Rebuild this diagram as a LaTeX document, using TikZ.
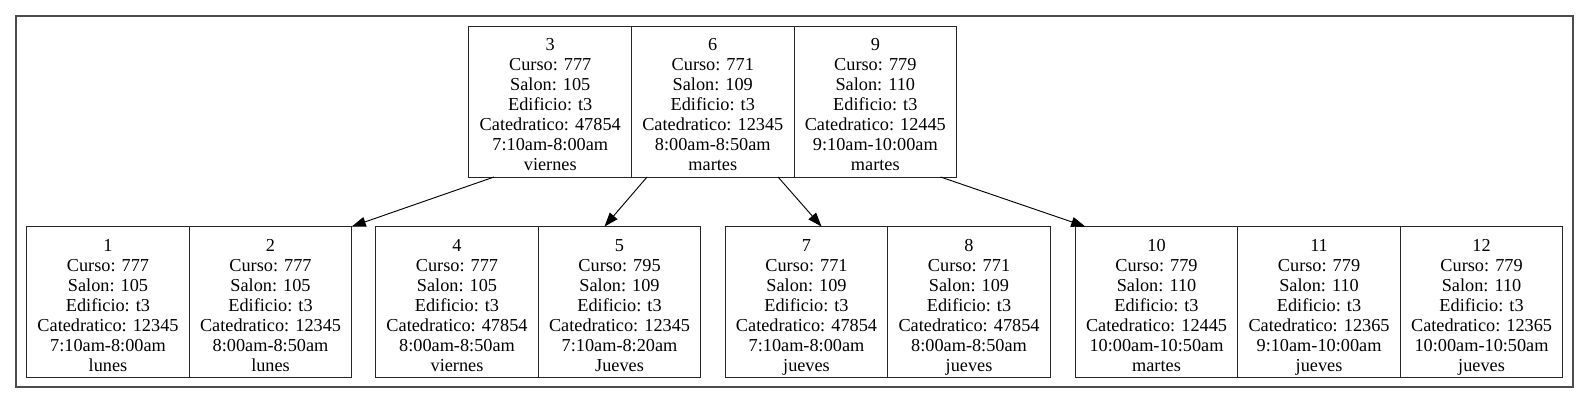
\documentclass[tikz,border=0pt]{standalone}
\usepackage{fontspec}
\setmainfont{Liberation Serif}
\usetikzlibrary{
    arrows.meta,
    positioning,
    calc
}
\tikzset{
    % Colors
    cluster color/.style={black!70},
    field color/.style={black!85},
    %
    % Cluster and record fields
    cluster/.style={cluster color,line width=1.3pt},
    field/.style={draw,field color,text=black,line width=.75pt,
        minimum width=121.9pt,minimum height=113.25pt,inner sep=0pt,outer sep=0pt,
        align=center,font=\fontsize{13.7}{15}\selectfont},
    %
    % Arrows
    arrow tip/.tip={Triangle[length=10.5pt,width=7.5pt]},
    arr/.style={-{arrow tip},line width=.7pt}
}
% one field of a record (struts keep all fields on the same baselines)
\newcommand{\ficha}[6]{\rule{0pt}{18pt}#1\\\strut Curso: #2\\\strut Salon: #3\\\strut Edificio: t3\\\strut Catedratico: #4\\\strut #5\\\strut #6}

\begin{document}
\begin{tikzpicture}[x=0.75pt,y=-0.75pt]
        \useasboundingbox (0,0) rectangle (1589,405);
        \draw[cluster] (16,16) rectangle (1573,387);
        % root
        \node[field] (f3) at (550.25,101.5) {\ficha{3}{777}{105}{47854}{7:10am-8:00am}{viernes}};
        \node[field,right=0pt of f3] (f6) {\ficha{6}{771}{109}{12345}{8:00am-8:50am}{martes}};
        \node[field,right=0pt of f6] (f9) {\ficha{9}{779}{110}{12445}{9:10am-10:00am}{martes}};
        % leaves
        \node[field] (f1) at (108,302) {\ficha{1}{777}{105}{12345}{7:10am-8:00am}{lunes}};
        \node[field,right=0pt of f1] (f2) {\ficha{2}{777}{105}{12345}{8:00am-8:50am}{lunes}};
        \node[field] (f4) at (457,302) {\ficha{4}{777}{105}{47854}{8:00am-8:50am}{viernes}};
        \node[field,right=0pt of f4] (f5) {\ficha{5}{795}{109}{12345}{7:10am-8:20am}{Jueves}};
        \node[field] (f7) at (806.5,302) {\ficha{7}{771}{109}{47854}{7:10am-8:00am}{jueves}};
        \node[field,right=0pt of f7] (f8) {\ficha{8}{771}{109}{47854}{8:00am-8:50am}{jueves}};
        \node[field] (f10) at (1156.5,302) {\ficha{10}{779}{110}{12445}{10:00am-10:50am}{martes}};
        \node[field,right=0pt of f10] (f11) {\ficha{11}{779}{110}{12365}{9:10am-10:00am}{jueves}};
        \node[field,right=0pt of f11] (f12) {\ficha{12}{779}{110}{12365}{10:00am-10:50am}{jueves}};
        % pointers
        \draw[arr] ($(f3.south west)+(25,0)$) -- (f2.north east);
        \draw[arr] ($(f6.south west)+(15.5,0)$) -- ($(f5.north)+(-15,0)$);
        \draw[arr] ($(f6.south east)+(-16,0)$) -- ($(f7.north)+(15,0)$);
        \draw[arr] ($(f9.south east)+(-16,0)$) -- ($(f10.north west)+(10,0)$);
    \end{tikzpicture}
\end{document}
